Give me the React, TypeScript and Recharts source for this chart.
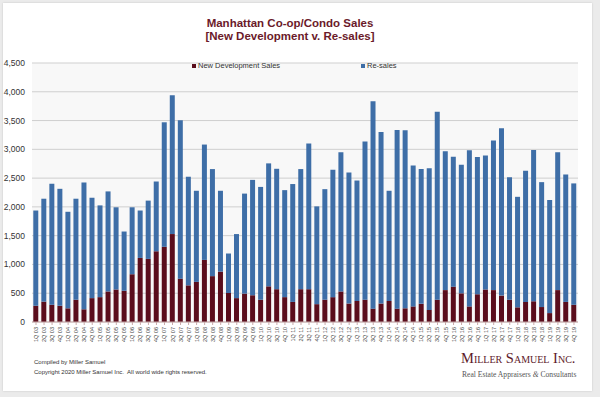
import { BarChart, Bar, XAxis, YAxis, CartesianGrid, Legend } from "recharts";

const quarters = [
	"1Q 03", "2Q 03", "3Q 03", "4Q 03", "1Q 04", "2Q 04", "3Q 04", "4Q 04",
	"1Q 05", "2Q 05", "3Q 05", "4Q 05", "1Q 06", "2Q 06", "3Q 06", "4Q 06",
	"1Q 07", "2Q 07", "3Q 07", "4Q 07", "1Q 08", "2Q 08", "3Q 08", "4Q 08",
	"1Q 09", "2Q 09", "3Q 09", "4Q 09", "1Q 10", "2Q 10", "3Q 10", "4Q 10",
	"1Q 11", "2Q 11", "3Q 11", "4Q 11", "1Q 12", "2Q 12", "3Q 12", "4Q 12",
	"1Q 13", "2Q 13", "3Q 13", "4Q 13", "1Q 14", "2Q 14", "3Q 14", "4Q 14",
	"1Q 15", "2Q 15", "3Q 15", "4Q 15", "1Q 16", "2Q 16", "3Q 16", "4Q 16",
	"1Q 17", "2Q 17", "3Q 17", "4Q 17", "1Q 18", "2Q 18", "3Q 18", "4Q 18",
	"1Q 19", "2Q 19", "3Q 19", "4Q 19",
];

const newDevelopment = [
	282, 354, 299, 282, 238, 387, 221, 415,
	432, 531, 565, 542, 830, 1113, 1096, 1229,
	1306, 1528, 753, 637, 697, 1079, 797, 875,
	504, 415, 493, 465, 387, 620, 570, 432,
	349, 570, 570, 310, 387, 432, 531, 321,
	365, 387, 232, 321, 365, 232, 238, 271,
	316, 210, 387, 554, 614, 498, 271, 482,
	565, 554, 459, 387, 255, 349, 360, 260,
	155, 554, 349, 299,
];

const totalSales = [
	1937, 2142, 2402, 2314, 1915, 2142, 2424, 2159,
	2026, 2269, 1993, 1572, 1993, 1937, 2109, 2441,
	3470, 3941, 3504, 2524, 2280, 3083, 2657, 2280,
	1190, 1528, 2231, 2469, 2347, 2756, 2662, 2291,
	2397, 2657, 3100, 2009, 2308, 2646, 2950, 2596,
	2458, 3138, 3836, 3299, 2280, 3338, 3332, 2718,
	2657, 2673, 3653, 2967, 2873, 2734, 2983, 2867,
	2895, 3155, 3365, 2513, 2175, 2629, 2989, 2430,
	2120, 2950, 2563, 2408,
];

const yTicks = [0, 500, 1000, 1500, 2000, 2500, 3000, 3500, 4000, 4500];

const data = quarters.map((q, i) => ({
	quarter: q,
	newDev: newDevelopment[i],
	resales: totalSales[i] - newDevelopment[i],
}));

const RED = "#5a0d1c";
const BLUE = "#3e6ea7";
const sans = "'Liberation Sans', Arial, sans-serif";
const serif = "'Liberation Serif', 'DejaVu Serif', serif";

const QuarterTick = (props: any) => {
	const { x, y, payload } = props;
	return (
		<text
			x={x}
			y={y}
			transform={`rotate(-90, ${x}, ${y})`}
			textAnchor="end"
			dominantBaseline="central"
			fontSize={5.5}
			fill="#444"
			fontFamily={sans}
		>
			{payload.value}
		</text>
	);
};

const renderLegend = () => (
	<div style={{ position: "relative", height: 12, fontFamily: sans, fontSize: 7.5, color: "#333" }}>
		<div style={{ position: "absolute", left: 192, top: 0, display: "flex", alignItems: "center" }}>
			<span style={{ width: 4, height: 4, background: RED, marginRight: 2 }} />
			New Development Sales
		</div>
		<div style={{ position: "absolute", left: 361, top: 0, display: "flex", alignItems: "center" }}>
			<span style={{ width: 4, height: 4, background: BLUE, marginRight: 2 }} />
			Re-sales
		</div>
	</div>
);

export default function App() {
	return (
		<div style={{ position: "absolute", left: 0, top: 0, width: 600, height: 397, background: "#ebebeb", overflow: "hidden" }}>
			<div style={{ position: "absolute", left: 3, top: 3, width: 589, height: 388, background: "#fff", boxShadow: "0 0 2px rgba(0,0,0,0.15)" }} />
			<div
				style={{
					position: "absolute",
					left: 0,
					top: 17,
					width: 580,
					textAlign: "center",
					fontFamily: sans,
					fontWeight: "bold",
					fontSize: 11.5,
					lineHeight: "13px",
					color: "#6b1a2a",
				}}
			>
				Manhattan Co-op/Condo Sales
				<br />[New Development v. Re-sales]
			</div>
			<div style={{ position: "absolute", left: 0, top: 0 }}>
				<BarChart
					width={600}
					height={397}
					data={data}
					margin={{ top: 51, right: 22, bottom: 50, left: 0 }}
					barCategoryGap="16%"
				>
					<CartesianGrid vertical={false} stroke="#cfcfcf" fill="#f8f8f8" />
					<XAxis
						dataKey="quarter"
						interval={0}
						height={25}
						tick={<QuarterTick />}
						tickSize={3}
						tickMargin={2}
						stroke="#c9a9a9"
					/>
					<YAxis
						width={32}
						domain={[0, 4500]}
						ticks={yTicks}
						axisLine={false}
						tickLine={false}
						tickSize={0}
						tickMargin={7}
						tick={{ fontSize: 8.5, fill: "#333", fontFamily: sans }}
						tickFormatter={(v: number) => v.toLocaleString("en-US")}
					/>
					<Legend
						verticalAlign="top"
						content={renderLegend}
						wrapperStyle={{ position: "absolute", top: 61, left: 0, width: 600 }}
					/>
					<Bar dataKey="newDev" name="New Development Sales" stackId="a" fill={RED} isAnimationActive={false} />
					<Bar dataKey="resales" name="Re-sales" stackId="a" fill={BLUE} isAnimationActive={false} />
				</BarChart>
			</div>
			<div style={{ position: "absolute", left: 34, top: 357, fontFamily: sans, fontSize: 6, color: "#333", lineHeight: "10px" }}>
				Compiled by Miller Samuel
				<br />
				Copyright 2020 Miller Samuel Inc.&nbsp; All world wide rights reserved.
			</div>
			<div style={{ position: "absolute", left: 461, top: 350, fontFamily: serif, color: "#5e1b2b", fontSize: 14.5, fontVariant: "small-caps", whiteSpace: "nowrap" }}>
				Miller Samuel Inc.
			</div>
			<div style={{ position: "absolute", left: 462, top: 370, fontFamily: serif, color: "#555", fontSize: 7.6, whiteSpace: "nowrap" }}>
				Real Estate Appraisers <i>&amp;</i> Consultants
			</div>
		</div>
	);
}
